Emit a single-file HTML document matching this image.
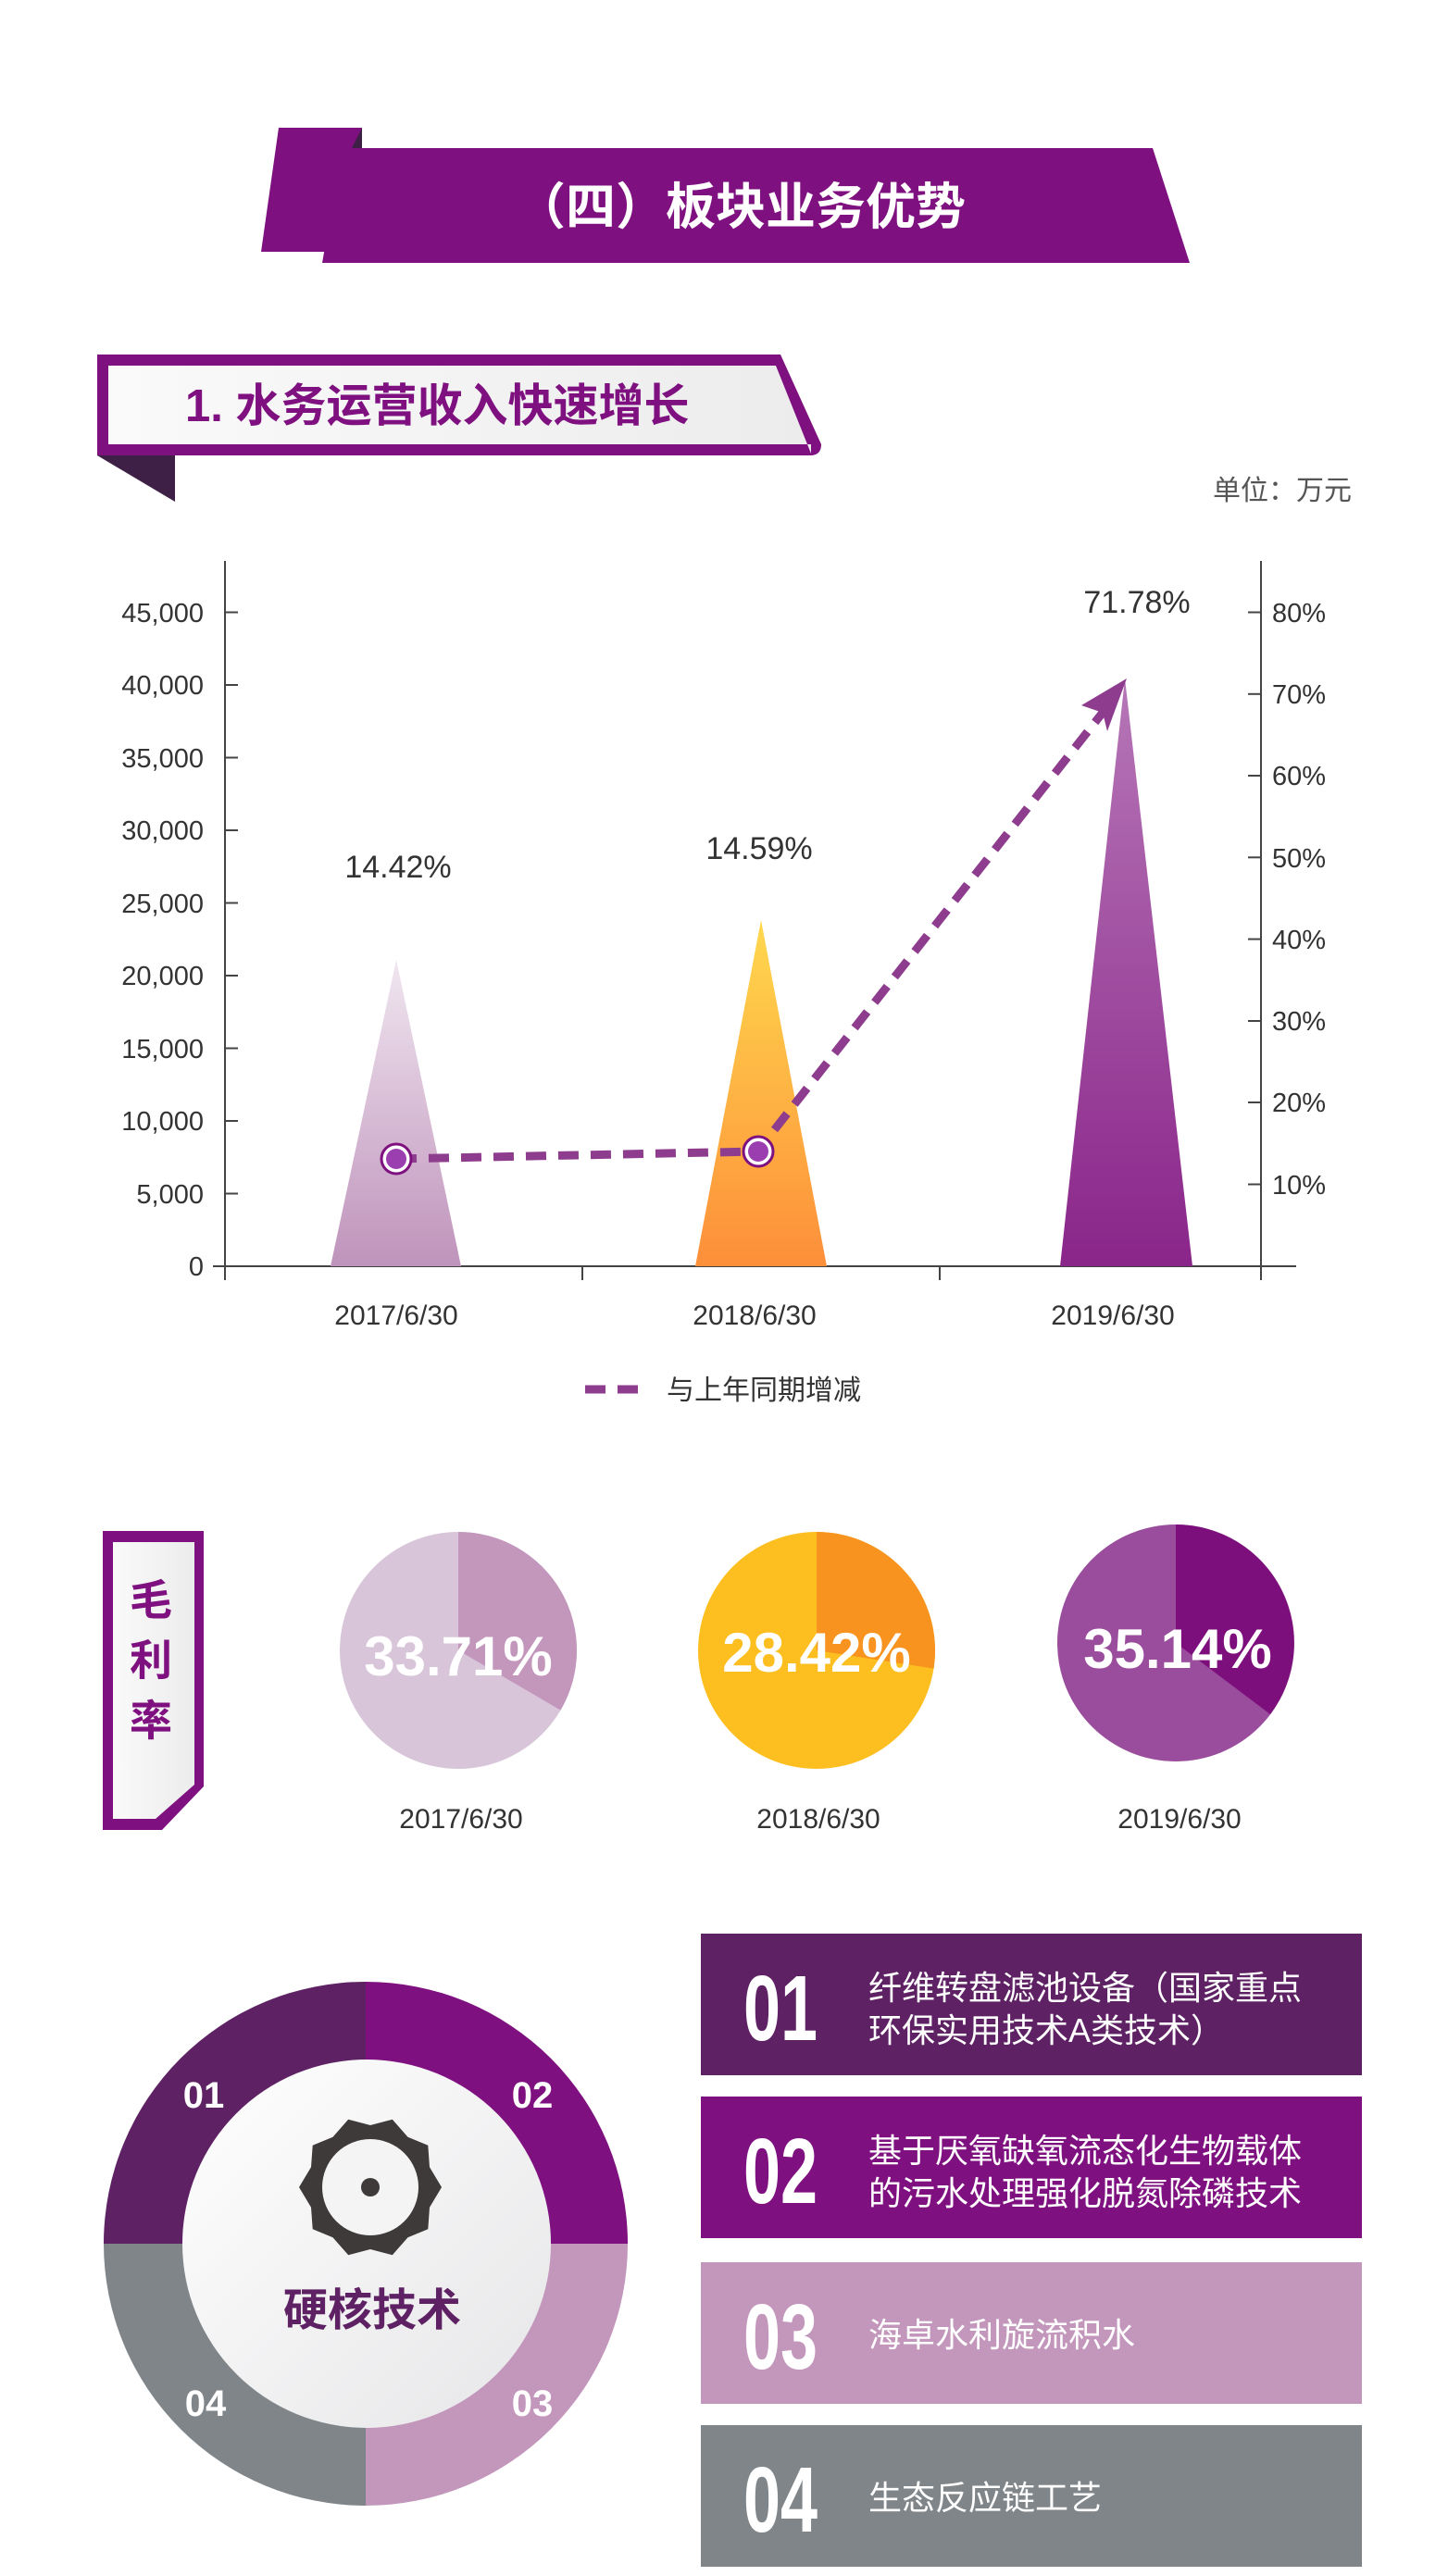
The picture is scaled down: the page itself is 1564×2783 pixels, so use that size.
<!DOCTYPE html>
<html><head><meta charset="utf-8"><style>
html,body{margin:0;padding:0;background:#fff}
svg{display:block}
text{font-family:"Liberation Sans","Noto Sans CJK SC",sans-serif}
</style></head><body>
<svg width="1564" height="2783" viewBox="0 0 1564 2783" xmlns="http://www.w3.org/2000/svg">
<defs>
<linearGradient id="g1" x1="0" y1="0" x2="0" y2="1"><stop offset="0" stop-color="#f0e6f0"/><stop offset="1" stop-color="#bf93bb"/></linearGradient>
<linearGradient id="g2" x1="0" y1="0" x2="0" y2="1"><stop offset="0" stop-color="#ffd84d"/><stop offset="1" stop-color="#fd8f3a"/></linearGradient>
<linearGradient id="g3" x1="0" y1="0" x2="0" y2="1"><stop offset="0" stop-color="#b677b7"/><stop offset="1" stop-color="#8a258a"/></linearGradient>
<linearGradient id="gl" x1="0" y1="0" x2="1" y2="1"><stop offset="0" stop-color="#ffffff"/><stop offset="1" stop-color="#e6e6e8"/></linearGradient>
<linearGradient id="gb" x1="0" y1="0" x2="1" y2="0"><stop offset="0" stop-color="#fafafa"/><stop offset="1" stop-color="#ececec"/></linearGradient>
</defs>

<polygon points="301,138 391,138 391,272 282,272" fill="#7f1080"/>
<polygon points="391,138 391,180 370,180" fill="#3e1f45"/>
<polygon points="370,160 1245,160 1285,284 348,284" fill="#7f1080"/>
<text x="800" y="242" font-size="54" font-weight="bold" fill="#fff" text-anchor="middle">（四）板块业务优势</text>

<path d="M105,383 L843,383 L887,480 L887,480 Q887,492 875,492 L105,492 Z" fill="#7f1080"/>
<path d="M117,395 L838,395 L876,490 L876,480 L117,480 Z" fill="url(#gb)"/>
<polygon points="105,492 189,492 189,542" fill="#3e1f45"/>
<text x="200" y="455" font-size="49" font-weight="bold" fill="#7f1080">1. 水务运营收入快速增长</text>
<text x="1460" y="540" font-size="30" fill="#555" text-anchor="end">单位：万元</text>

<g stroke="#444" stroke-width="2" fill="none">
<line x1="243" y1="606" x2="243" y2="1383"/>
<line x1="1362" y1="606" x2="1362" y2="1383"/>
<line x1="230" y1="1368" x2="1400" y2="1368"/>
<line x1="629" y1="1368" x2="629" y2="1383"/>
<line x1="1015" y1="1368" x2="1015" y2="1383"/>
<line x1="243" y1="661.5" x2="257" y2="661.5"/><line x1="243" y1="740" x2="257" y2="740"/><line x1="243" y1="818.5" x2="257" y2="818.5"/><line x1="243" y1="897" x2="257" y2="897"/><line x1="243" y1="975.5" x2="257" y2="975.5"/><line x1="243" y1="1054" x2="257" y2="1054"/><line x1="243" y1="1132.5" x2="257" y2="1132.5"/><line x1="243" y1="1211" x2="257" y2="1211"/><line x1="243" y1="1289.5" x2="257" y2="1289.5"/>
<line x1="1348" y1="661.5" x2="1362" y2="661.5"/><line x1="1348" y1="749.8" x2="1362" y2="749.8"/><line x1="1348" y1="838" x2="1362" y2="838"/><line x1="1348" y1="926.3" x2="1362" y2="926.3"/><line x1="1348" y1="1014.6" x2="1362" y2="1014.6"/><line x1="1348" y1="1103" x2="1362" y2="1103"/><line x1="1348" y1="1191" x2="1362" y2="1191"/><line x1="1348" y1="1279.5" x2="1362" y2="1279.5"/>
</g>
<g font-size="29" fill="#333" text-anchor="end">
<text x="220" y="672">45,000</text><text x="220" y="750">40,000</text><text x="220" y="829">35,000</text><text x="220" y="907">30,000</text><text x="220" y="986">25,000</text><text x="220" y="1064">20,000</text><text x="220" y="1143">15,000</text><text x="220" y="1221">10,000</text><text x="220" y="1300">5,000</text><text x="220" y="1378">0</text>
</g>
<g font-size="29" fill="#333">
<text x="1374" y="672">80%</text><text x="1374" y="760">70%</text><text x="1374" y="848">60%</text><text x="1374" y="937">50%</text><text x="1374" y="1025">40%</text><text x="1374" y="1113">30%</text><text x="1374" y="1201">20%</text><text x="1374" y="1290">10%</text>
</g>
<polygon points="357,1368 428,1037 498,1368" fill="url(#g1)"/>
<polygon points="751,1368 822,994 893,1368" fill="url(#g2)"/>
<polygon points="1145,1368 1215,733 1288,1368" fill="url(#g3)"/>
<polyline points="428,1252 818,1244 1205,752" fill="none" stroke="#8e3d8e" stroke-width="9" stroke-dasharray="22,13"/>
<polygon points="1217,733 1168,762 1191,770 1196,790" fill="#8e3d8e"/>
<g><circle cx="428" cy="1252" r="16" fill="#fff" stroke="#7f1080" stroke-width="3"/><circle cx="428" cy="1252" r="11" fill="#9b3fb0"/>
<circle cx="819" cy="1244" r="16" fill="#fff" stroke="#7f1080" stroke-width="3"/><circle cx="819" cy="1244" r="11" fill="#9b3fb0"/></g>
<g font-size="34" fill="#333" text-anchor="middle">
<text x="430" y="948">14.42%</text><text x="820" y="928">14.59%</text><text x="1228" y="662">71.78%</text>
</g>
<g font-size="30" fill="#333" text-anchor="middle">
<text x="428" y="1431">2017/6/30</text><text x="815" y="1431">2018/6/30</text><text x="1202" y="1431">2019/6/30</text>
</g>
<line x1="632" y1="1501" x2="697" y2="1501" stroke="#8e3d8e" stroke-width="9" stroke-dasharray="22,13"/>
<text x="720" y="1512" font-size="30" fill="#333">与上年同期增减</text>

<path d="M111,1654 L220,1654 L220,1930 L175,1977 L111,1977 Z" fill="#7f1080"/>
<path d="M122,1666 L210,1666 L210,1928 L168,1965 L122,1965 Z" fill="url(#gb)"/>
<g font-size="46" font-weight="bold" fill="#7f1080" text-anchor="middle">
<text x="163" y="1745">毛</text><text x="163" y="1810">利</text><text x="163" y="1875">率</text>
</g>

<circle cx="495" cy="1783" r="128" fill="#d8c5d9"/>
<path d="M495,1783 L495,1655 A128,128 0 0 1 605.5,1847.6 Z" fill="#c396bc"/>
<circle cx="882" cy="1783" r="128" fill="#fdbe20"/>
<path d="M882,1783 L882,1655 A128,128 0 0 1 1008.5,1802.6 Z" fill="#f7931e"/>
<circle cx="1270" cy="1775" r="128" fill="#9a4d9c"/>
<path d="M1270,1775 L1270,1647 A128,128 0 0 1 1372,1852 Z" fill="#7d0f7d"/>
<g font-size="60" font-weight="bold" fill="#fff" text-anchor="middle">
<text x="495" y="1810">33.71%</text><text x="882" y="1806">28.42%</text><text x="1272" y="1802">35.14%</text>
</g>
<g font-size="30" fill="#333" text-anchor="middle">
<text x="498" y="1975">2017/6/30</text><text x="884" y="1975">2018/6/30</text><text x="1274" y="1975">2019/6/30</text>
</g>

<path d="M395,2424 L395,2141 A283,283 0 0 0 112,2424 Z" fill="#5e2264"/>
<path d="M395,2424 L395,2141 A283,283 0 0 1 678,2424 Z" fill="#7f1080"/>
<path d="M395,2424 L678,2424 A283,283 0 0 1 395,2707 Z" fill="#c396bc"/>
<path d="M395,2424 L395,2707 A283,283 0 0 1 112,2424 Z" fill="#7f8589"/>
<circle cx="396" cy="2424" r="199" fill="url(#gl)"/>
<g font-size="40" font-weight="bold" fill="#fff" text-anchor="middle">
<text x="220" y="2277">01</text><text x="575" y="2277">02</text><text x="222" y="2610">04</text><text x="575" y="2610">03</text>
</g>
<polygon points="477,2363 464,2384.8 462.3,2408.3 440.5,2417.2 423.8,2436.2 400,2430 376.2,2436.2 359.5,2417.2 337.7,2408.3 336,2384.8 323,2363 336,2341.2 337.7,2317.7 359.5,2308.8 376.2,2289.8 400,2296 423.8,2289.8 440.5,2308.8 462.3,2317.7 464,2341.2" fill="#3e3a39"/>
<circle cx="400" cy="2363" r="52" fill="#f4f4f4"/>
<circle cx="400" cy="2363" r="10" fill="#3e3a39"/>
<text x="402" y="2512" font-size="48" font-weight="bold" fill="#5e2264" text-anchor="middle">硬核技术</text>

<rect x="757" y="2089" width="714" height="153" fill="#5e2264"/>
<rect x="757" y="2265" width="714" height="153" fill="#7f1080"/>
<rect x="757" y="2444" width="714" height="153" fill="#c396bc"/>
<rect x="757" y="2620" width="714" height="153" fill="#7f8589"/>
<g font-size="100" font-weight="bold" fill="#fff">
<text x="803" y="2204" transform="translate(803,0) scale(0.72,1) translate(-803,0)">01</text>
<text x="803" y="2380" transform="translate(803,0) scale(0.72,1) translate(-803,0)">02</text>
<text x="803" y="2559" transform="translate(803,0) scale(0.72,1) translate(-803,0)">03</text>
<text x="803" y="2735" transform="translate(803,0) scale(0.72,1) translate(-803,0)">04</text>
</g>
<g font-size="36" fill="#fff">
<text x="938" y="2160">纤维转盘滤池设备（国家重点</text>
<text x="938" y="2206">环保实用技术A类技术）</text>
<text x="938" y="2336">基于厌氧缺氧流态化生物载体</text>
<text x="938" y="2382">的污水处理强化脱氮除磷技术</text>
<text x="938" y="2535">海卓水利旋流积水</text>
<text x="938" y="2711">生态反应链工艺</text>
</g>
</svg>
</body></html>
